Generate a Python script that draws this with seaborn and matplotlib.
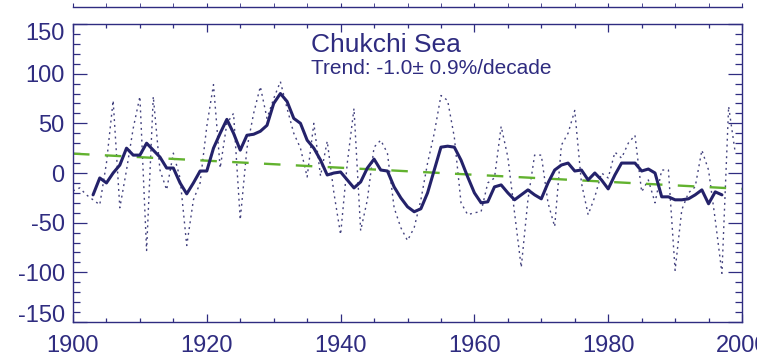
import numpy as np
import matplotlib
matplotlib.use("Agg")
import matplotlib.pyplot as plt
import matplotlib.transforms as mtransforms
from matplotlib.ticker import MultipleLocator
import seaborn as sns

# annual values (dotted line), 1900-1999
annual_years = np.arange(1900, 2000)
annual_values = [
    -18, -15, -22, -27, -32, 10, 73, -35, 3, 45,
    77, -78, 77, 3, -17, 20, -5, -73, -27, -10,
    47, 89, 5, 50, 60, -47, 25, 60, 87, 55,
    75, 92, 65, 40, 25, -4, 50, -3, 32, -20,
    -62, 10, 65, -58, -27, 26, 33, 20, -35, -55,
    -68, -55, -27, 10, 40, 78, 73, 36, -30, -42,
    -40, -39, -10, -5, 47, 16, -40, -95, -27, 18,
    18, -30, -54, 28, 40, 63, -10, -42, -24, 0,
    -5, 21, 15, 30, 38, -19, -7, -30, 3, 3,
    -98, -37, -20, -14, 23, 3, -47, -101, 67, 20,
]

# smoothed values (solid line), 1903-1997
smooth_years = np.arange(1903, 1998)
smooth_values = [
    -22, -5, -10, 0, 8, 25, 18, 18, 30, 23,
    16, 5, 5, -10, -21, -10, 2, 2, 25, 40,
    54, 40, 23, 38, 39, 42, 48, 70, 80, 72,
    55, 50, 33, 25, 13, -2, 0, 1, -7, -15,
    -9, 5, 14, 3, 2, -14, -25, -34, -39, -36,
    -20, 3, 26, 27, 26, 13, -4, -20, -30, -29,
    -14, -12, -20, -27, -22, -17, -22, -26, -10, 3,
    8, 10, 2, 3, -7, 0, -7, -16, -2, 10,
    10, 10, 2, 4, 0, -24, -24, -27, -27, -26,
    -22, -17, -31, -19, -22,
]

# linear trend end points
trend_years = [1900, 2000]
trend_values = [19.5, -16]

yticks = [-150, -100, -50, 0, 50, 100, 150]
ytick_labels = ["-150", "-100", "-50", "0", "50", "100", "150"]
xticks = [1900, 1920, 1940, 1960, 1980, 2000]
xtick_labels = ["1900", "1920", "1940", "1960", "1980", "2000"]

title = "Chukchi Sea"
subtitle = "Trend: -1.0\u00b1 0.9%/decade"

NAVY = "#2f2c80"
LINE = "#24226a"
GREEN = "#62b22f"

sns.set_style("ticks")
plt.rcParams["font.family"] = ["Liberation Sans", "DejaVu Sans"]

fig = plt.figure(figsize=(7.57, 3.62), dpi=100)
fig.patch.set_facecolor("white")
ax = fig.add_axes([73 / 757, 40 / 362, 669 / 757, 298 / 362])

sns.lineplot(x=annual_years, y=annual_values, ax=ax, color="#44437f",
             linewidth=1.0, linestyle=(0, (1.4, 2.8)), errorbar=None)
sns.lineplot(x=trend_years, y=trend_values, ax=ax, color=GREEN,
             linewidth=1.7, linestyle=(0, (7, 6.5)), errorbar=None)
sns.lineplot(x=smooth_years, y=smooth_values, ax=ax, color=LINE,
             linewidth=2.2, errorbar=None)

ax.set_xlim(1900, 2000)
ax.set_ylim(-150, 150)
ax.set_xticks(xticks, labels=xtick_labels)
ax.set_yticks(yticks, labels=ytick_labels)
ax.xaxis.set_minor_locator(MultipleLocator(5))
ax.yaxis.set_minor_locator(MultipleLocator(10))

for s in ax.spines.values():
    s.set_color(NAVY)
    s.set_linewidth(1.0)

ax.tick_params(which="both", direction="in", top=True, right=True,
               color=NAVY, width=0.9, labelcolor=NAVY, labelsize=17)
ax.tick_params(axis="y", which="major", length=10, pad=6)
ax.tick_params(axis="y", which="minor", length=5)
ax.tick_params(axis="x", which="major", length=6, pad=9)
ax.tick_params(axis="x", which="minor", length=3)
ax.set_xlabel("")
ax.set_ylabel("")

ax.text(0.356, 0.93, title, transform=ax.transAxes, fontsize=19,
        color=NAVY, va="center", ha="left")
ax.text(0.356, 0.852, subtitle, transform=ax.transAxes, fontsize=15,
        color=NAVY, va="center", ha="left")

# end labels on the y axis sit inside the frame
ticks = ax.yaxis.get_major_ticks()
ticks[-1].label1.set_transform(ticks[-1].label1.get_transform() +
                               mtransforms.ScaledTranslation(0, -8 / 100, fig.dpi_scale_trans))
ticks[0].label1.set_transform(ticks[0].label1.get_transform() +
                              mtransforms.ScaledTranslation(0, 9 / 100, fig.dpi_scale_trans))

# bottom edge of the panel above
ax_top = fig.add_axes([73 / 757, (362 - 7) / 362, 669 / 757, 0.2])
ax_top.set_xlim(1900, 2000)
ax_top.set_facecolor("none")
for k in ["top", "left", "right"]:
    ax_top.spines[k].set_visible(False)
ax_top.spines["bottom"].set_color(NAVY)
ax_top.spines["bottom"].set_linewidth(1.0)
ax_top.set_xticks(xticks)
ax_top.xaxis.set_minor_locator(MultipleLocator(5))
ax_top.tick_params(which="both", direction="in", color=NAVY, length=3,
                   labelbottom=False)
ax_top.set_yticks([])

fig.savefig("out.png", dpi=100, facecolor="white")
